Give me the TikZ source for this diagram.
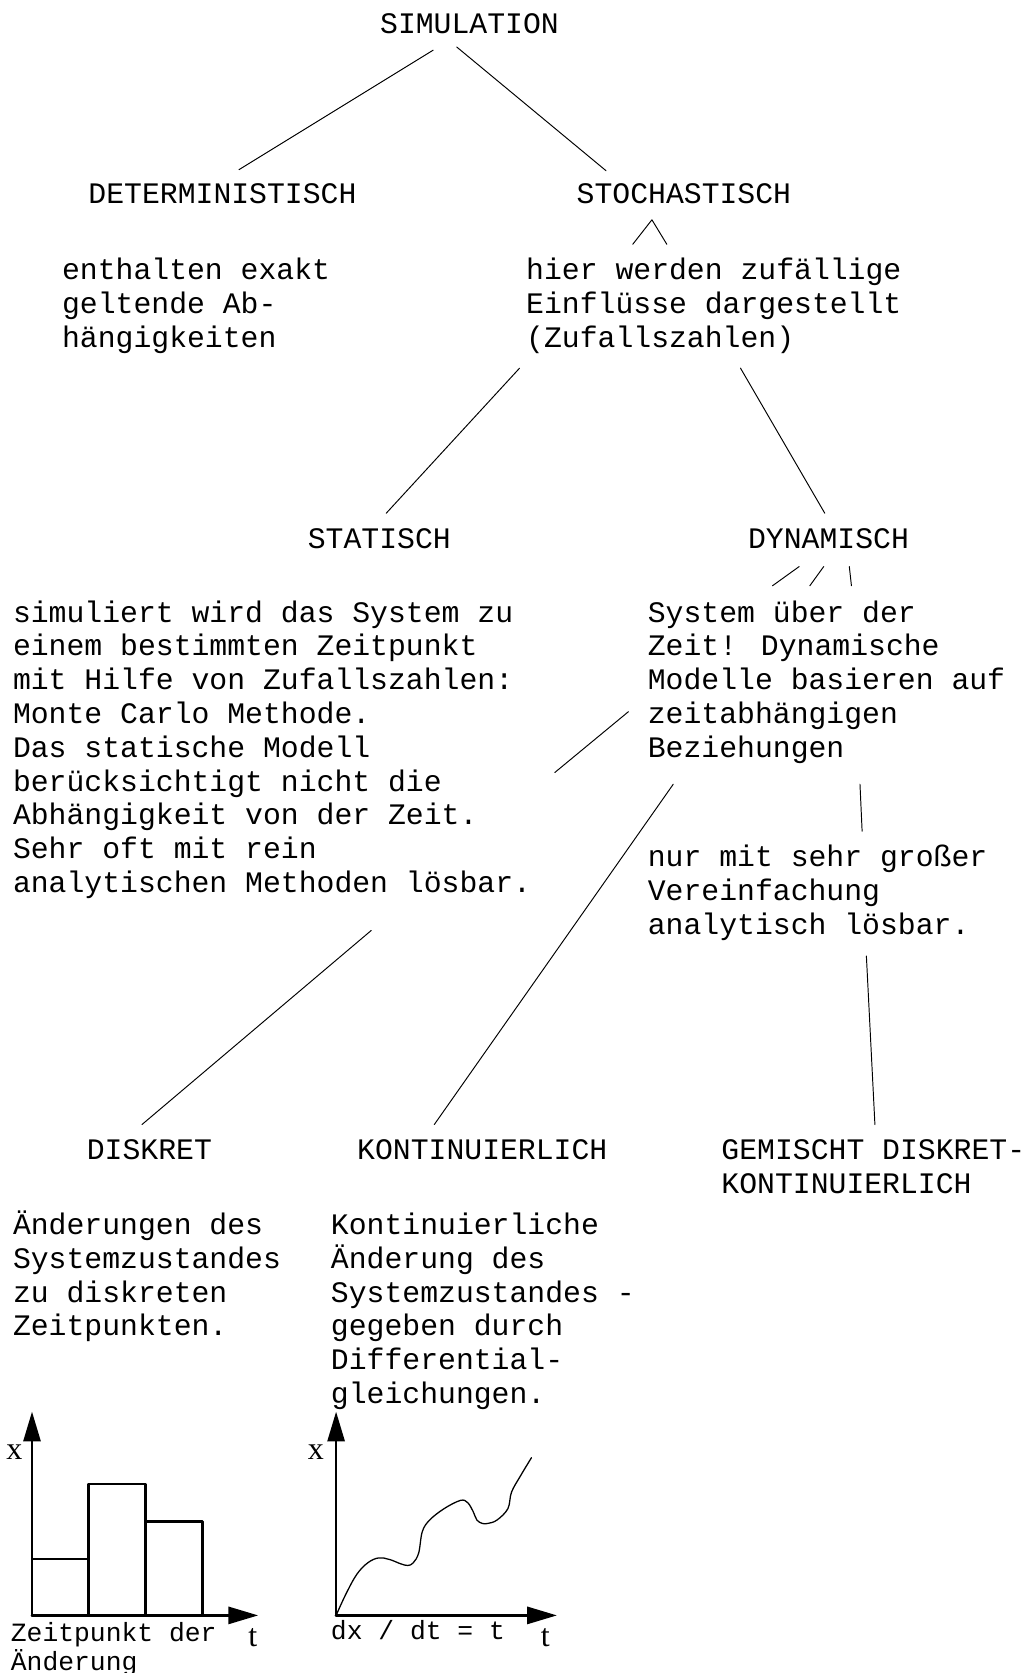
\documentclass[tikz,border=0pt]{standalone}
\usepackage{fontspec}
\setmainfont{Liberation Mono}
\newfontfamily\axisfont{Liberation Serif}
\usetikzlibrary{calc,arrows.meta}
\tikzset{
	head/.style={anchor=base, inner sep=0pt},
	txt/.style={anchor=base west, inner sep=0pt},
	ast/.style={line width=0.9pt},
	axis/.style={line width=2.6pt, ->},
	bar/.style={line width=2.4pt},
	axlab/.style={anchor=base, inner sep=0pt, font=\axisfont\fontsize{30}{32}\selectfont},
	small/.style={font=\fontsize{24.7}{27}\selectfont}
}
\newcommand{\lns}[1]{\begin{tabular}[t]{@{}l@{}}#1\end{tabular}}
\begin{document}
\begin{tikzpicture}[x=1pt, y=-1pt, line join=round, line cap=round, >={Triangle[length=28pt,width=16pt]}, font=\fontsize{27.9}{31.7}\selectfont]
	\useasboundingbox (0,0) rectangle (964,1568);
	
	\node[head] (sim) at (440,31) {SIMULATION};
	\node[head] (det) at (208.5,191) {DETERMINISTISCH};
	\node[head] (sto) at (641,191) {STOCHASTISCH};
	\node[txt] (ent) at (58,262) {\lns{enthalten exakt\\geltende Ab-\\hängigkeiten}};
	\node[txt] (hier) at (493,262) {\lns{hier werden zufällige\\Einflüsse dargestellt\\(Zufallszahlen)}};
	
	\node[head] (stat) at (355.5,514) {STATISCH};
	\node[head] (dyn) at (776.5,514) {DYNAMISCH};
	\node[txt] (stattxt) at (12,583) {\lns{simuliert wird das System zu\\einem bestimmten Zeitpunkt\\mit Hilfe von Zufallszahlen:\\Monte Carlo Methode.\\Das statische Modell\\berücksichtigt nicht die\\Abhängigkeit von der Zeit.\\Sehr oft mit rein\\analytischen Methoden lösbar.}};
	\node[txt] (dyntxt) at (607,583) {\lns{System über der\\Zeit! Dynamische\\Modelle basieren auf\\zeitabhängigen\\Beziehungen}};
	\node[txt] (nur) at (607,812) {\lns{nur mit sehr großer\\Vereinfachung\\analytisch lösbar.}};
	
	\node[head] (dis) at (140,1087) {DISKRET};
	\node[head] (kon) at (452,1087) {KONTINUIERLICH};
	\node[txt] (gem) at (676,1087) {\lns{GEMISCHT DISKRET-\\KONTINUIERLICH}};
	\node[txt] (distxt) at (12,1157) {\lns{Änderungen des\\Systemzustandes\\zu diskreten\\Zeitpunkten.}};
	\node[txt] (kontxt) at (310,1157) {\lns{Kontinuierliche\\Änderung des\\Systemzustandes -\\gegeben durch\\Differential-\\gleichungen.}};
	
	% Verbindungen
	\draw[ast] ($(sim.base)+(-34,16)$) -- ($(det.base)+(15.5,-32)$);
	\draw[ast] ($(sim.base)+(-12,13)$) -- ($(sto.base)+(-73,-31)$);
	\draw[ast] ($(sto.base)+(-48,38)$) -- ($(sto.base)+(-30,15)$) -- ($(sto.base)+(-16,38)$);
	\draw[ast] ($(hier.base west)+(-6,83)$) -- ($(stat.base)+(6.5,-33)$);
	\draw[ast] ($(hier.base west)+(201,83)$) -- ($(dyn.base)+(-3.5,-33)$);
	\draw[ast] ($(dyn.base)+(-52.5,35)$) -- ($(dyn.base)+(-27.5,17)$);
	\draw[ast] ($(dyn.base)+(-17.5,35)$) -- ($(dyn.base)+(-4.5,17)$);
	\draw[ast] ($(dyn.base)+(19.5,17)$) -- ($(dyn.base)+(21.5,35)$);
	\draw[ast] ($(dyntxt.base west)+(-18,84)$) -- ($(dyntxt.base west)+(-87,141)$)
		($(stattxt.base west)+(336,289)$) -- ($(dis.base)+(-7,-33)$);
	\draw[ast] ($(dyntxt.base west)+(24,152)$) -- ($(kon.base)+(-45,-33)$);
	\draw[ast] ($(dyntxt.base west)+(199,152)$) -- ($(nur.base west)+(201,-33)$);
	\draw[ast] ($(nur.base west)+(205,84)$) -- ($(gem.base west)+(144,-33)$);
	
	% Diagramm diskret
	\draw[bar] (30,1514) rectangle (83,1461);
	\draw[bar] (83,1514) rectangle (136.5,1391);
	\draw[bar] (136.5,1514) rectangle (190,1426);
	\draw[axis] (30,1514) -- (30,1323);
	\draw[axis] (30,1514) -- (242,1514);
	\node[axlab] (x1) at (13.5,1368) {x};
	\node[axlab] (t1) at (237,1543) {t};
	\node[txt, small] (zp) at (10,1538) {\lns{Zeitpunkt der\\Änderung}};
	
	% Diagramm kontinuierlich
	\draw[line width=1.2pt] plot[smooth, tension=0.6] coordinates {(315,1514) (324.2,1494) (334.4,1475.5) (344.7,1464.7) (354.9,1460.1) (365.1,1461.6) (375.4,1465.6) (382.2,1467.2) (387.3,1464.7) (392.4,1455.5) (395.8,1435.5) (402.6,1424.7) (416.3,1413.9) (431.6,1406.2) (438.4,1408.4) (443.6,1417) (447,1424.7) (452.1,1427.8) (457.2,1427.8) (465.7,1424.7) (476,1414) (479.4,1398.5) (487.9,1383.1) (498.1,1366.2)};
	\draw[axis] (315,1514) -- (315,1323);
	\draw[axis] (315,1514) -- (522,1514);
	\node[axlab] (x2) at (296,1368) {x};
	\node[axlab] (t2) at (511,1543) {t};
	\node[txt, small] (dxdt) at (310,1537) {dx / dt = t};
\end{tikzpicture}
\end{document}
